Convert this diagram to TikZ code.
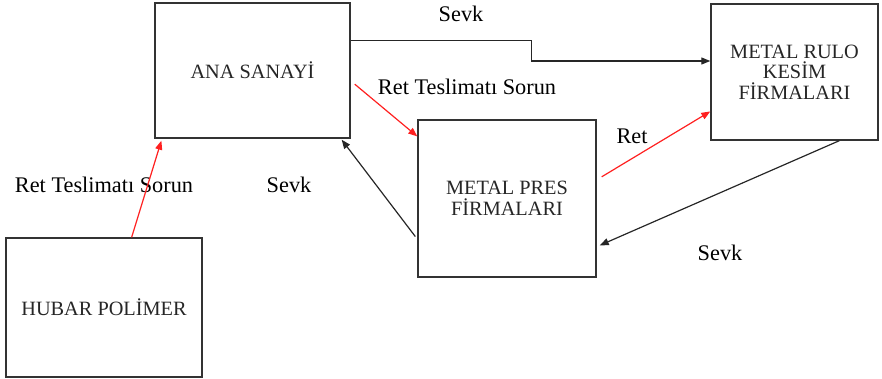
\documentclass[tikz,border=0pt]{standalone}
\usepackage{fontspec}
\setmainfont{Liberation Serif}
\usetikzlibrary{arrows.meta,calc}
\definecolor{boxline}{HTML}{333333}
\definecolor{redarrow}{HTML}{FF2020}
\tikzset{
  firm/.style={draw=boxline,line width=1.4pt,rectangle,inner sep=0pt,align=center,
    font=\fontsize{20.3}{20.5}\selectfont,text=black!85},
  lbl/.style={inner sep=0pt,font=\fontsize{22.3}{24}\selectfont},
  blk/.style={draw=black!85,line width=1.2pt,-{Triangle[length=9pt,width=7pt]}},
  red/.style={draw=redarrow,line width=1.2pt,-{Triangle[length=9pt,width=7pt]},redarrow},
}
\begin{document}
\begin{tikzpicture}[x=1pt,y=-1pt]
\useasboundingbox (0,0) rectangle (882,379);
\node[firm,minimum width=195pt,minimum height=135pt] (ana) at (252.5,70.5) {ANA SANAYİ};
\node[firm,minimum width=167pt,minimum height=136pt] (rulo) at (794.5,72) {METAL RULO\\KESİM\\FİRMALARI};
\node[firm,minimum width=178pt,minimum height=157pt] (pres) at (507,198.5) {METAL PRES\\FİRMALARI};
\node[firm,minimum width=196pt,minimum height=139pt] (hubar) at (104,307.5) {HUBAR POLİMER};

\node[lbl] (l1) at (461,14) {Sevk};
\node[lbl] (l2) at (467,87) {Ret Teslimatı Sorun};
\node[lbl] (l3) at (104,185) {Ret Teslimatı Sorun};
\node[lbl] (l4) at (289,185) {Sevk};
\node[lbl] (l5) at (632,136) {Ret};
\node[lbl] (l6) at (720,253) {Sevk};

% Sevk: ANA -> RULO
\coordinate (s1) at ($(ana.north east)!0.28!(ana.south east)$);
\coordinate (e1) at ($(rulo.north west)!0.42!(rulo.south west)$);
\draw[blk] (s1) -- ++(181,0) |- (e1);
% Ret: ANA -> PRES
\coordinate (s2) at ($(ana.north east)!0.6!(ana.south east)+(4,0)$);
\coordinate (e2) at ($(pres.north west)!0.108!(pres.south west)$);
\draw[red] (s2) -- (e2);
% Ret: HUBAR -> ANA
\coordinate (s3) at ($(hubar.north west)!0.64!(hubar.north east)$);
\coordinate (e3) at ($(ana.south west)!0.036!(ana.south east)+(0,2)$);
\draw[red] (s3) -- (e3);
% Sevk: PRES -> ANA
\coordinate (s4) at ($(pres.north west)!0.74!(pres.south west)+(-2,0)$);
\coordinate (e4) at ($(ana.south west)!0.954!(ana.south east)+(0,1)$);
\draw[blk] (s4) -- (e4);
% Ret: PRES -> RULO
\coordinate (s5) at ($(pres.north east)!0.363!(pres.south east)+(5,0)$);
\coordinate (e5) at ($(rulo.north west)!0.787!(rulo.south west)$);
\draw[red] (s5) -- (e5);
% Sevk: RULO -> PRES
\coordinate (s6) at ($(rulo.south west)!0.766!(rulo.south east)$);
\coordinate (e6) at ($(pres.north east)!0.796!(pres.south east)+(3,0)$);
\draw[blk] (s6) -- (e6);
\end{tikzpicture}
\end{document}
